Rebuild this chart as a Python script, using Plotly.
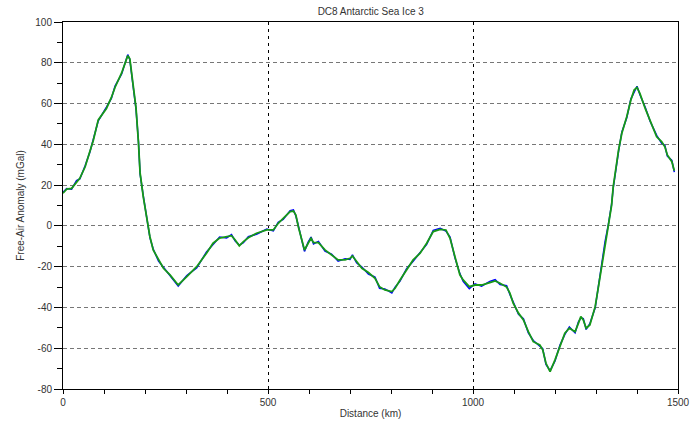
import plotly.graph_objects as go

# Free-air gravity anomaly profile along the flight line
distance_km = [0, 9, 21, 33, 41, 54, 66, 74, 86, 106, 118, 127, 143, 158, 163, 171, 178, 184,
               188, 196, 204, 212, 220, 233, 245, 261, 281, 302, 326, 350, 366, 382, 399, 411,
               420, 430, 440, 452, 472, 497, 513, 525, 537, 554, 562, 568, 574, 582, 589, 598,
               605, 611, 623, 639, 655, 671, 688, 700, 706, 716, 729, 745, 761, 772, 785, 802,
               810, 822, 838, 854, 871, 887, 903, 920, 934, 944, 956, 968, 976, 991, 1005, 1021,
               1041, 1054, 1066, 1082, 1090, 1098, 1111, 1123, 1135, 1147, 1163, 1170, 1178, 1188,
               1200, 1212, 1224, 1235, 1249, 1257, 1263, 1269, 1276, 1285, 1298, 1306, 1314, 1322,
               1330, 1338, 1342, 1349, 1355, 1363, 1375, 1385, 1393, 1400, 1407, 1420, 1432, 1448,
               1460, 1468, 1474, 1485, 1491]

# Filtered anomaly (mGal)
anomaly_filtered = [16, 18, 18.4, 21.7, 23.3, 29, 37, 42, 52, 57.6, 63, 68, 75, 83.5, 82, 68, 58, 41,
                    26, 14, 4.5, -5.3, -11.8, -16.7, -20.8, -24, -29, -24.9, -20, -13.4, -8.5, -6, -5.3, -4.8,
                    -6.9, -9.8, -7.7, -5.8, -3.6, -2, -2, 1.3, 3.7, 7, 7.3, 5.3, -0.4, -6.9, -11.8, -8.5,
                    -6.1, -8.2, -8.2, -11.8, -14.3, -16.7, -16.7, -15.9, -14.8, -17.5, -20.8, -22.9, -25.7, -29.8, -31.4, -32.2,
                    -30.6, -26.5, -21.6, -16.7, -13.4, -8.5, -2.8, -1.7, -2, -6.1, -15.1, -24, -26.5, -29.8, -29, -29,
                    -27.8, -27, -28.1, -30, -33, -37.9, -42.8, -46.1, -51.9, -56.8, -58.4, -60.8, -67.4, -71.5,
                    -65.7, -59.2, -52.6, -50.2, -51.9, -47.8, -44.5, -46.1, -50.2, -48.6, -39.6, -29.8, -20, -8.5,
                    1, 10, 19.2, 29, 37.2, 45.4, 53.5, 61.7, 66.6, 67.9, 65, 57.6, 51.9, 43.7,
                    41.3, 38.8, 34.8, 31.5, 27]

# Raw anomaly (mGal)
anomaly_raw = [16.5, 18.3, 18.0, 22.2, 23.0, 29.5, 36.5, 42.4, 51.5, 58.2, 62.5, 68.6, 74.5, 84.0, 81.5, 68.5, 57.5, 41.5,
               25.5, 14.5, 4.0, -5.8, -11.3, -17.3, -20.3, -24.6, -29.5, -24.3, -20.6, -12.8, -8.9, -5.5, -5.9, -4.3,
               -7.4, -9.4, -8.2, -5.3, -4.1, -1.6, -2.5, 1.8, 3.2, 7.5, 7.9, 4.8, 0.1, -7.5, -12.5, -8.0,
               -5.5, -8.8, -7.6, -12.4, -13.8, -17.3, -16.1, -16.5, -14.2, -18.1, -20.2, -23.6, -25.1, -30.6, -30.9, -32.9,
               -30.0, -27.1, -21.0, -17.3, -12.8, -9.1, -2.2, -1.2, -2.6, -5.5, -15.7, -23.4, -27.2, -30.8, -28.4, -29.6,
               -27.2, -26.4, -28.8, -29.3, -33.6, -37.4, -43.4, -45.5, -52.5, -56.2, -59.0, -60.2, -68.0, -71.0,
               -66.3, -58.6, -53.2, -49.6, -52.5, -47.2, -45.1, -45.5, -50.8, -48.0, -40.2, -29.2, -20.6, -7.9,
               0.5, 10.6, 18.6, 29.5, 36.6, 46.0, 53.0, 62.2, 66.0, 68.5, 64.4, 58.2, 51.3, 44.4,
               40.6, 39.4, 34.2, 32.1, 26.4]

x_ticks = [0, 500, 1000, 1500]
y_ticks = [-80, -60, -40, -20, 0, 20, 40, 60, 80, 100]

FONT = "Liberation Sans"
TEXT = "#333333"

fig = go.Figure()
fig.add_trace(go.Scatter(x=distance_km, y=anomaly_raw, mode="lines",
                         line=dict(color="#0000ff", width=1.5), name="Raw"))
fig.add_trace(go.Scatter(x=distance_km, y=anomaly_filtered, mode="lines",
                         line=dict(color="#169a16", width=1.8), name="Filtered"))

fig.update_layout(
    width=695, height=425,
    margin=dict(l=63, r=17, t=22, b=36, autoexpand=False),
    paper_bgcolor="white", plot_bgcolor="white",
    showlegend=False,
    font=dict(family=FONT, size=10, color=TEXT),
    title=dict(text="DC8 Antarctic Sea Ice 3", x=0.5334, xanchor="center",
               y=0.974, yanchor="middle", font=dict(family=FONT, size=10, color=TEXT)),
)

fig.update_xaxes(
    range=[0, 1500], tickvals=x_ticks, ticktext=[str(v) for v in x_ticks],
    showline=True, linecolor="black", linewidth=1, mirror=True,
    ticks="outside", ticklen=4, tickcolor="black",
    minor=dict(dtick=100, ticks="outside", ticklen=4, tickcolor="black", showgrid=False),
    showgrid=True, gridcolor="black", gridwidth=1, griddash="3px,4px",
    zeroline=False, automargin=False,
    title=dict(text="Distance (km)", font=dict(family=FONT, size=10, color=TEXT), standoff=2),
    tickfont=dict(family=FONT, size=10, color=TEXT),
)

fig.update_yaxes(
    range=[-80, 100], tickvals=y_ticks, ticktext=[str(v) for v in y_ticks],
    showline=True, linecolor="black", linewidth=1, mirror=True,
    ticks="outside", ticklen=8, tickcolor="black",
    minor=dict(dtick=10, ticks="outside", ticklen=5, tickcolor="black", showgrid=False),
    showgrid=True, gridcolor="#777777", gridwidth=1, griddash="4px,3px",
    zeroline=False, automargin=False,
    title=dict(text="Free-Air Anomaly (mGal)", font=dict(family=FONT, size=10, color=TEXT), standoff=8),
    tickfont=dict(family=FONT, size=10, color=TEXT),
)

fig.write_html("out.html")
